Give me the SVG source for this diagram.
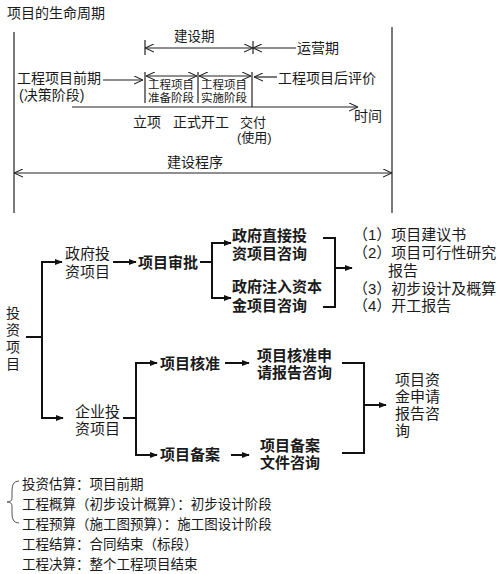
<svg xmlns="http://www.w3.org/2000/svg" width="502" height="574" viewBox="0 0 502 574">
<defs>
<marker id="open" viewBox="0 0 10 10" refX="10" refY="5" markerWidth="9" markerHeight="9" markerUnits="userSpaceOnUse" orient="auto-start-reverse">
<path d="M0,0.5 L10,5 L0,9.5" fill="none" stroke="#222" stroke-width="1.2"/>
</marker>
<marker id="fill" viewBox="0 0 10 10" refX="9" refY="5" markerWidth="8" markerHeight="8" markerUnits="userSpaceOnUse" orient="auto">
<path d="M0,1 L10,5 L0,9 z" fill="#111"/>
</marker>
</defs>
<style>
text{font-family:"Liberation Sans","Noto Sans CJK SC",sans-serif;fill:#1a1a1a;font-size:14px}
.s{font-size:11.5px}
.m{font-size:15px}
.b{font-size:15px;font-weight:bold}
.l{font-size:13.5px}
.t{stroke:#222;stroke-width:1.2;fill:none}
.k{stroke:#111;stroke-width:2;fill:none}
.ao{marker-end:url(#open)}
.ad{marker-start:url(#open);marker-end:url(#open)}
.af{marker-end:url(#fill)}
</style>
<rect width="502" height="574" fill="#fff"/>

<g id="title"><text x="7" y="18">项目的生命周期</text></g>

<g id="connectors">
<line class="t" x1="14" y1="32" x2="14" y2="213"/>
<line class="t" x1="392" y1="27" x2="392" y2="213"/>
<line class="t" x1="145" y1="40" x2="145" y2="55"/>
<line class="t" x1="253" y1="41" x2="253" y2="54"/>
<line class="t ad" x1="145" y1="48" x2="253" y2="48"/>
<line class="t ao" x1="296" y1="48" x2="253" y2="48"/>
<line class="t ao" x1="103" y1="80" x2="143" y2="80"/>
<line class="t" x1="145" y1="72" x2="145" y2="103"/>
<line class="t" x1="198" y1="72" x2="198" y2="103"/>
<line class="t" x1="252" y1="72" x2="252" y2="107"/>
<line class="t ad" x1="146" y1="76" x2="197" y2="76"/>
<line class="t ad" x1="199" y1="76" x2="251" y2="76"/>
<line class="t ao" x1="277" y1="77" x2="254" y2="77"/>
<line class="t ao" x1="72" y1="107" x2="358" y2="107" stroke-width="1.5"/>
<line class="t ad" x1="14" y1="173" x2="392" y2="173"/>
<line class="k" x1="26" y1="337" x2="42" y2="337"/>
<path class="k" d="M62,262 H42 V418 H62"/>
<line class="k af" x1="42" y1="262" x2="62" y2="262"/>
<line class="k af" x1="42" y1="418" x2="63" y2="418"/>
<line class="k af" x1="113" y1="262" x2="136" y2="262"/>
<line class="k" x1="200" y1="262" x2="212" y2="262"/>
<path class="k" d="M231,243 H212 V298 H231"/>
<line class="k af" x1="212" y1="243" x2="231" y2="243"/>
<line class="k af" x1="212" y1="298" x2="231" y2="298"/>
<path class="k" d="M323,238 H335 V307 H323"/>
<line class="k af" x1="335" y1="268" x2="352" y2="268"/>
<line class="k" x1="123" y1="418" x2="136" y2="418"/>
<path class="k" d="M157,363 H136 V455 H157"/>
<line class="k af" x1="136" y1="363" x2="157" y2="363"/>
<line class="k af" x1="136" y1="455" x2="157" y2="455"/>
<line class="k af" x1="225" y1="363" x2="249" y2="363"/>
<line class="k af" x1="231" y1="455" x2="249" y2="455"/>
<path class="k" d="M342,363 H364 V453 H342"/>
<line class="k af" x1="364" y1="405" x2="386" y2="405"/>
<path d="M19,481 Q12,481 12,490 L12,498 Q12,502 7,502 Q12,502 12,506 L12,514 Q12,523 19,523" fill="none" stroke="#555" stroke-width="1"/>
</g>

<g id="timeline-labels">
<text x="174" y="41" style="font-size:13.5px">建设期</text>
<text x="297" y="53">运营期</text>
<text x="17" y="83">工程项目前期<tspan x="19" dy="17">(决策阶段)</tspan></text>
<text class="s" x="148" y="89">工程项目<tspan x="148" dy="13">准备阶段</tspan></text>
<text class="s" x="201" y="89">工程项目<tspan x="201" dy="13">实施阶段</tspan></text>
<text x="278" y="83">工程项目后评价</text>
<text x="354" y="121">时间</text>
<text x="133" y="127">立项</text>
<text x="173" y="127">正式开工</text>
<text x="240" y="127" style="font-size:13px">交付<tspan x="237" dy="14.5">(使用)</tspan></text>
<text x="167" y="167">建设程序</text>
</g>

<g id="n-root"><text x="6" y="318">投<tspan x="6" dy="17">资</tspan><tspan x="6" dy="17">项</tspan><tspan x="6" dy="17">目</tspan></text></g>
<g id="n-gov"><text class="m" x="65" y="259">政府投<tspan x="65" dy="18">资项目</tspan></text></g>
<g id="n-approve"><text class="b" x="138" y="268">项目审批</text></g>
<g id="n-direct"><text class="b" x="232" y="241">政府直接投<tspan x="232" dy="18">资项目咨询</tspan></text></g>
<g id="n-inject"><text class="b" x="232" y="292">政府注入资本<tspan x="232" dy="19">金项目咨询</tspan></text></g>
<g id="n-docs">
<text class="m" x="353" y="240">（1）项目建议书<tspan x="353" dy="18">（2）项目可行性研究</tspan><tspan x="388" dy="18">报告</tspan><tspan x="353" dy="18">（3）初步设计及概算</tspan><tspan x="353" dy="17">（4）开工报告</tspan></text>
</g>
<g id="n-ent"><text class="m" x="75" y="417">企业投<tspan x="75" dy="17">资项目</tspan></text></g>
<g id="n-verify"><text class="b" x="160" y="369">项目核准</text></g>
<g id="n-record"><text class="b" x="160" y="460">项目备案</text></g>
<g id="n-verify-rpt"><text class="b" x="257" y="361">项目核准申<tspan x="257" dy="17">请报告咨询</tspan></text></g>
<g id="n-record-doc"><text class="b" x="260" y="451">项目备案<tspan x="260" dy="17">文件咨询</tspan></text></g>
<g id="n-fund"><text class="m" x="395" y="385">项目资<tspan x="395" dy="17">金申请</tspan><tspan x="395" dy="17">报告咨</tspan><tspan x="395" dy="17">询</tspan></text></g>

<g id="notes">
<text class="l" x="22" y="489">投资估算：项目前期<tspan x="22" dy="20">工程概算（初步设计概算）：初步设计阶段</tspan><tspan x="22" dy="20">工程预算（施工图预算）：施工图设计阶段</tspan><tspan x="22" dy="20">工程结算：合同结束（标段）</tspan><tspan x="22" dy="20">工程决算：整个工程项目结束</tspan></text>
</g>
</svg>
